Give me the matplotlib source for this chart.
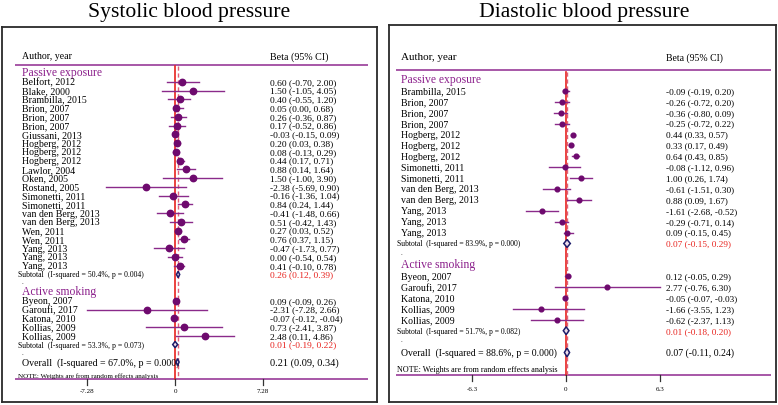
import matplotlib
matplotlib.use("Agg")
import matplotlib.pyplot as plt
from matplotlib.patches import Polygon

# ---------------- data ----------------
# Systolic blood pressure
sbp_passive_labels = ["Belfort, 2012", "Blake, 2000", "Brambilla, 2015", "Brion, 2007", "Brion, 2007",
                      "Brion, 2007", "Giussani, 2013", "Hogberg, 2012", "Hogberg, 2012", "Hogberg, 2012",
                      "Lawlor, 2004", "Oken, 2005", "Rostand, 2005", "Simonetti, 2011", "Simonetti, 2011",
                      "van den Berg, 2013", "van den Berg, 2013", "Wen, 2011", "Wen, 2011", "Yang, 2013",
                      "Yang, 2013", "Yang, 2013"]
sbp_passive_beta = [0.60, 1.50, 0.40, 0.05, 0.26, 0.17, -0.03, 0.20, 0.08, 0.44, 0.88, 1.50, -2.38,
                    -0.16, 0.84, -0.41, 0.51, 0.27, 0.76, -0.47, 0.00, 0.41]
sbp_passive_lo = [-0.70, -1.05, -0.55, 0.00, -0.36, -0.52, -0.15, 0.03, -0.13, 0.17, 0.14, -1.00, -5.69,
                  -1.36, 0.24, -1.48, -0.42, 0.03, 0.37, -1.73, -0.54, -0.10]
sbp_passive_hi = [2.00, 4.05, 1.20, 0.68, 0.87, 0.86, 0.09, 0.38, 0.29, 0.71, 1.64, 3.90, 0.90,
                  1.04, 1.44, 0.66, 1.43, 0.52, 1.15, 0.77, 0.54, 0.78]
sbp_passive_sub = (0.26, 0.12, 0.39)
sbp_passive_sub_stats = "Subtotal  (I-squared = 50.4%, p = 0.004)"

sbp_active_labels = ["Byeon, 2007", "Garoufi, 2017", "Katona, 2010", "Kollias, 2009", "Kollias, 2009"]
sbp_active_beta = [0.09, -2.31, -0.07, 0.73, 2.48]
sbp_active_lo = [-0.09, -7.28, -0.12, -2.41, 0.11]
sbp_active_hi = [0.26, 2.66, -0.04, 3.87, 4.86]
sbp_active_sub = (0.01, -0.19, 0.22)
sbp_active_sub_stats = "Subtotal  (I-squared = 53.3%, p = 0.073)"

sbp_overall = (0.21, 0.09, 0.34)
sbp_overall_stats = "Overall  (I-squared = 67.0%, p = 0.000)"
sbp_ticks = [-7.28, 0, 7.28]
sbp_tick_labels = ["-7.28", "0", "7.28"]

# Diastolic blood pressure
dbp_passive_labels = ["Brambilla, 2015", "Brion, 2007", "Brion, 2007", "Brion, 2007", "Hogberg, 2012",
                      "Hogberg, 2012", "Hogberg, 2012", "Simonetti, 2011", "Simonetti, 2011",
                      "van den Berg, 2013", "van den Berg, 2013", "Yang, 2013", "Yang, 2013", "Yang, 2013"]
dbp_passive_beta = [-0.09, -0.26, -0.36, -0.25, 0.44, 0.33, 0.64, -0.08, 1.00, -0.61, 0.88, -1.61, -0.29, 0.09]
dbp_passive_lo = [-0.19, -0.72, -0.80, -0.72, 0.33, 0.17, 0.43, -1.12, 0.26, -1.51, 0.09, -2.68, -0.71, -0.15]
dbp_passive_hi = [0.20, 0.20, 0.09, 0.22, 0.57, 0.49, 0.85, 0.96, 1.74, 0.30, 1.67, -0.52, 0.14, 0.45]
dbp_passive_sub = (0.07, -0.15, 0.29)
dbp_passive_sub_stats = "Subtotal  (I-squared = 83.9%, p = 0.000)"

dbp_active_labels = ["Byeon, 2007", "Garoufi, 2017", "Katona, 2010", "Kollias, 2009", "Kollias, 2009"]
dbp_active_beta = [0.12, 2.77, -0.05, -1.66, -0.62]
dbp_active_lo = [-0.05, -0.76, -0.07, -3.55, -2.37]
dbp_active_hi = [0.29, 6.30, -0.03, 1.23, 1.13]
dbp_active_sub = (0.01, -0.18, 0.20)
dbp_active_sub_stats = "Subtotal  (I-squared = 51.7%, p = 0.082)"

dbp_overall = (0.07, -0.11, 0.24)
dbp_overall_stats = "Overall  (I-squared = 88.6%, p = 0.000)"
dbp_ticks = [-6.3, 0, 6.3]
dbp_tick_labels = ["-6.3", "0", "6.3"]

# ---------------- styling ----------------
W, H = 778, 406
SERIF = "Liberation Serif"
PURPLE_TXT = "#8b1f8b"
PURPLE_LINE = "#a04aa0"
CI_COLOR = "#8a2a8a"
DOT_COLOR = "#6e0a6e"
RED = "#e8231e"
DASH = "#e0607a"
NAVY = "#1c1c6a"

fig = plt.figure(figsize=(W / 100, H / 100), dpi=100)


def fmt(t):
    return "%.2f (%.2f, %.2f)" % t


def panel(title, title_x, box, zero_px, unit_px, row0_px, row_px,
          header_y, line_y, bottom_y, tick_y, label_x, value_x, line_x0, line_x1,
          p_lab, p_b, p_lo, p_hi, p_sub, p_stats,
          a_lab, a_b, a_lo, a_hi, a_sub, a_stats, overall, o_stats, ticks, tick_labels,
          fs):
    left, top, right, bottom = box
    ax = fig.add_axes([left / W, 1 - bottom / H, (right - left) / W, (bottom - top) / H])
    ax.set_xlim((left - zero_px) / unit_px, (right - zero_px) / unit_px)
    ax.set_ylim((bottom - row0_px) / row_px, (top - row0_px) / row_px)
    ax.set_xticks([])
    ax.set_yticks([])
    for s in ax.spines.values():
        s.set_color("#2a2a2a")
        s.set_linewidth(1.3)

    X = lambda px: (px - zero_px) / unit_px
    Y = lambda py: (py - row0_px) / row_px

    fig.text(title_x / W, 1 - 17 / H, title, family=SERIF, fontsize=15.6, ha="center", va="baseline")

    ax.text(X(label_x), Y(header_y), "Author, year", family=SERIF, fontsize=fs["head"], ha="left", va="center")
    ax.text(X(value_x), Y(header_y), "Beta (95% CI)", family=SERIF, fontsize=fs["beta"], ha="left", va="center")
    ax.plot([X(line_x0), X(line_x1)], [Y(line_y), Y(line_y)], color=PURPLE_LINE, lw=1.3, solid_capstyle="butt")
    ax.plot([X(line_x0), X(line_x1)], [Y(bottom_y), Y(bottom_y)], color=PURPLE_LINE, lw=1.3, solid_capstyle="butt")

    # reference lines
    ax.plot([0, 0], [Y(line_y) + 0.15, Y(bottom_y)], color=RED, lw=1.2, zorder=2)
    ax.plot([overall[0], overall[0]], [Y(line_y) + 0.15, Y(bottom_y)], color=DASH, lw=1.0,
            ls=(0, (3, 2)), zorder=2)

    def study_rows(start, labels, b, lo, hi):
        for k, (lab, e, l, h) in enumerate(zip(labels, b, lo, hi)):
            r = start + k
            ax.text(X(label_x), r, lab, family=SERIF, fontsize=fs["lab"], ha="left", va="center")
            ax.text(X(value_x), r, fmt((e, l, h)), family=SERIF, fontsize=fs["val"], ha="left", va="center")
            ax.plot([l, h], [r, r], color=CI_COLOR, lw=1.0, zorder=3)
            ax.plot([e], [r], "o", color=DOT_COLOR, ms=fs["ms"], mec=DOT_COLOR, zorder=4)

    def diamond(r, t, hh, fill):
        e, l, h = t
        poly = Polygon([(l, r), (e, r - hh), (h, r), (e, r + hh)], closed=True,
                       facecolor=fill, edgecolor=NAVY, lw=1.1, zorder=5)
        ax.add_patch(poly)

    r = 0
    ax.text(X(label_x), r - 0.12, "Passive exposure", family=SERIF, fontsize=fs["sec"], color=PURPLE_TXT,
            ha="left", va="center")
    study_rows(1, p_lab, p_b, p_lo, p_hi)
    r = 1 + len(p_lab)
    ax.text(X(label_x - 4), r, p_stats, family=SERIF, fontsize=fs["sub"], ha="left", va="center")
    ax.text(X(value_x), r, fmt(p_sub), family=SERIF, fontsize=fs["val"], color=RED, ha="left", va="center")
    diamond(r, p_sub, 0.36, "#eedcea")
    ax.text(X(label_x), r + 0.85, ".", family=SERIF, fontsize=5, ha="left", va="center")
    r += 2
    ax.text(X(label_x), r - 0.12, "Active smoking", family=SERIF, fontsize=fs["sec"], color=PURPLE_TXT,
            ha="left", va="center")
    study_rows(r + 1, a_lab, a_b, a_lo, a_hi)
    r = r + 1 + len(a_lab)
    ax.text(X(label_x - 4), r, a_stats, family=SERIF, fontsize=fs["sub"], ha="left", va="center")
    ax.text(X(value_x), r, fmt(a_sub), family=SERIF, fontsize=fs["val"], color=RED, ha="left", va="center")
    diamond(r, a_sub, 0.36, "#eedcea")
    ax.text(X(label_x), r + 0.85, ".", family=SERIF, fontsize=5, ha="left", va="center")
    r += 2
    ax.text(X(label_x), r, o_stats, family=SERIF, fontsize=fs["ov"], ha="left", va="center")
    ax.text(X(value_x), r, fmt(overall), family=SERIF, fontsize=fs["ov_val"], ha="left", va="center")
    diamond(r, overall, 0.4, "#eedcea")
    ax.text(X(label_x - 4), r + 1.5, "NOTE: Weights are from random effects analysis", family=SERIF,
            fontsize=fs["note"], ha="left", va="center")

    # axis ticks
    for t, tl in zip(ticks, tick_labels):
        ax.plot([t, t], [Y(bottom_y), Y(bottom_y + 6)], color="#333333", lw=0.9)
        ax.text(t, Y(tick_y), tl, family=SERIF, fontsize=fs["tick"], ha="center", va="center")
    return ax


panel("Systolic blood pressure", 189, (2, 28, 377, 403), 175, 88 / 7.28, 74, 8.76,
      57, 66, 380, 392, 22, 270, 15, 368,
      sbp_passive_labels, sbp_passive_beta, sbp_passive_lo, sbp_passive_hi, sbp_passive_sub,
      sbp_passive_sub_stats,
      sbp_active_labels, sbp_active_beta, sbp_active_lo, sbp_active_hi, sbp_active_sub,
      sbp_active_sub_stats, sbp_overall, sbp_overall_stats, sbp_ticks, sbp_tick_labels,
      dict(head=7.1, beta=7.2, lab=7.1, val=6.8, sec=8.4, sub=5.6, ov=7.1, ov_val=7.4, note=5.1,
           tick=5.0, ms=4.6))

panel("Diastolic blood pressure", 584, (389, 26, 776, 403), 566, 94 / 6.3, 81, 10.9,
      58, 71, 376, 390, 401, 666, 396, 771,
      dbp_passive_labels, dbp_passive_beta, dbp_passive_lo, dbp_passive_hi, dbp_passive_sub,
      dbp_passive_sub_stats,
      dbp_active_labels, dbp_active_beta, dbp_active_lo, dbp_active_hi, dbp_active_sub,
      dbp_active_sub_stats, dbp_overall, dbp_overall_stats, dbp_ticks, dbp_tick_labels,
      dict(head=8.0, beta=7.0, lab=7.1, val=6.7, sec=8.4, sub=5.5, ov=7.0, ov_val=7.0, note=5.9,
           tick=5.0, ms=3.4))

fig.savefig("out.png", dpi=100)
